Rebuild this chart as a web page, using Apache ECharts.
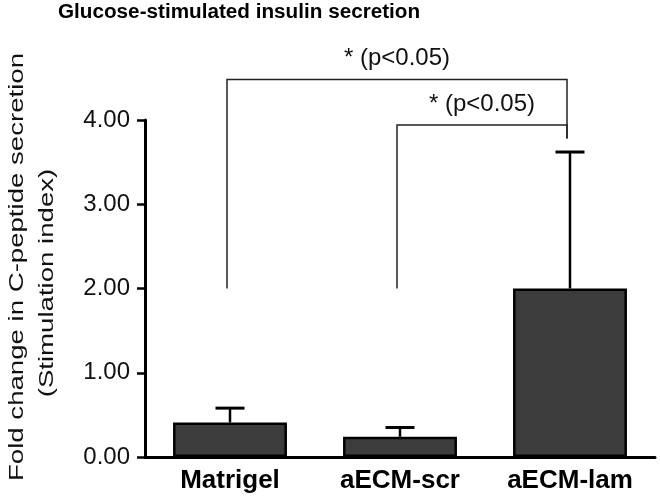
<!DOCTYPE html>
<html><head><meta charset="utf-8">
<script src="https://cdn.jsdelivr.net/npm/echarts@6/dist/echarts.min.js"></script>
<style>html,body{margin:0;padding:0;background:#fff}#c{width:660px;height:501px}</style>
</head><body><div id="c"></div>
<script>
const titleText = 'Glucose-stimulated insulin secretion';
const yNameLines = ['Fold change in C-peptide secretion', '(Stimulation index)'];
const categories = ['Matrigel', 'aECM-scr', 'aECM-lam'];
const means = [0.41, 0.24, 2.00];
const errors = [0.17, 0.11, 1.62];
const yTicks = [0, 1, 2, 3, 4];
// significance brackets: from category, to category, bracket level, left foot, right foot
const bracketFrom = [0, 1];
const bracketTo = [2, 2];
const bracketLevel = [4.48, 3.94];
const bracketLeftFoot = [2.00, 2.00];
const bracketRightFoot = [3.78, 3.78];
const bracketLabels = ['* (p<0.05)', '* (p<0.05)'];

const chart = echarts.init(document.getElementById('c'), null, {renderer: 'canvas'});
const font = 'Arial, "Liberation Sans", sans-serif';

const errData = categories.map((c, i) => [i, means[i], errors[i]]);
const brData = bracketFrom.map((f, i) => [f, bracketTo[i], bracketLevel[i], bracketLeftFoot[i], bracketRightFoot[i], bracketLabels[i]]);

chart.setOption({
  animation: false,
  backgroundColor: '#fff',
  title: {
    text: titleText, left: 58, top: 2, padding: 0,
    textStyle: {fontFamily: font, fontSize: 20.7, fontWeight: 'bold', color: '#000'}
  },
  graphic: [
    {type: 'text', x: 17, y: 267, rotation: Math.PI / 2, scaleX: 1.38, scaleY: 1,
     style: {text: yNameLines[0], font: '20px ' + font, fill: '#111', textAlign: 'center', textVerticalAlign: 'middle'}},
    {type: 'text', x: 47, y: 283, rotation: Math.PI / 2, scaleX: 1.38, scaleY: 1,
     style: {text: yNameLines[1], font: '20px ' + font, fill: '#111', textAlign: 'center', textVerticalAlign: 'middle'}}
  ],
  grid: {left: 145, right: 5, top: 120, bottom: 44},
  xAxis: {
    type: 'category', data: categories, boundaryGap: true,
    axisLine: {lineStyle: {color: '#000', width: 3}},
    axisTick: {alignWithLabel: true, length: 8, lineStyle: {color: '#000', width: 2.5}},
    axisLabel: {fontFamily: font, fontSize: 26, fontWeight: 'bold', color: '#000', margin: 11}
  },
  yAxis: {
    type: 'value', min: 0, max: 4, interval: 1,
    axisLine: {show: true, lineStyle: {color: '#000', width: 3}},
    axisTick: {show: true, length: 8, lineStyle: {color: '#000', width: 2.5}},
    splitLine: {show: false},
    axisLabel: {fontFamily: font, fontSize: 24, color: '#111', margin: 15,
      formatter: v => yTicks.indexOf(v) >= 0 ? v.toFixed(2) : ''}
  },
  series: [
    {
      type: 'bar', data: means, barWidth: '67%',
      itemStyle: {color: '#3c3c3c', borderColor: '#000', borderWidth: 2.5}
    },
    {
      type: 'custom', data: errData, clip: false, z: 3,
      renderItem: (params, api) => {
        const x = api.value(0);
        const p0 = api.coord([x, api.value(1)]);
        const p1 = api.coord([x, api.value(1) + api.value(2)]);
        const hw = 14.5;
        return {type: 'group', children: [
          {type: 'line', shape: {x1: p0[0], y1: p0[1], x2: p1[0], y2: p1[1]}, style: {stroke: '#000', lineWidth: 2.5}},
          {type: 'line', shape: {x1: p1[0] - hw, y1: p1[1], x2: p1[0] + hw, y2: p1[1]}, style: {stroke: '#000', lineWidth: 3}}
        ]};
      }
    },
    {
      type: 'custom', data: brData, clip: false, z: 4,
      renderItem: (params, api) => {
        const a = api.value(0), b = api.value(1), lv = api.value(2), lf = api.value(3), rf = api.value(4);
        const pl = api.coord([a, lv]), pr = api.coord([b, lv]);
        const plf = api.coord([a, lf]), prf = api.coord([b, rf]);
        const dx = -3;
        return {type: 'group', children: [
          {type: 'polyline', shape: {points: [[plf[0] + dx, plf[1]], [pl[0] + dx, pl[1]], [pr[0] + dx, pr[1]], [prf[0] + dx, prf[1]]]},
           style: {stroke: '#222', lineWidth: 1.5, fill: null}},
          {type: 'text', x: (pl[0] + pr[0]) / 2 + dx, y: pl[1] - 21,
           style: {text: brData[params.dataIndex][5], font: '24px ' + font, fill: '#111', textAlign: 'center', textVerticalAlign: 'middle'}}
        ]};
      }
    }
  ]
});
</script>
</body></html>
